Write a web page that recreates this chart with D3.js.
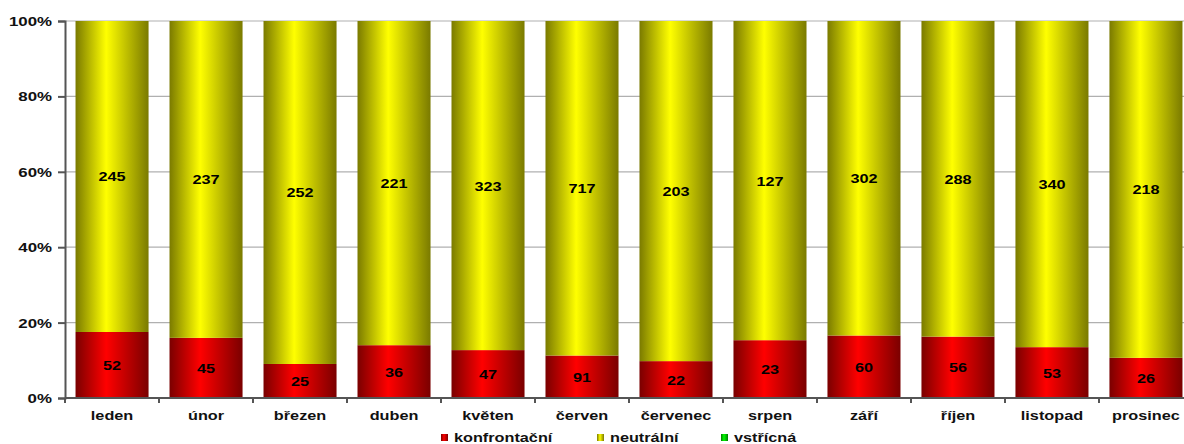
<!DOCTYPE html>
<html><head><meta charset="utf-8">
<script src="https://cdn.jsdelivr.net/npm/d3@7/dist/d3.min.js"></script>
<style>body{margin:0;background:#fff}svg{display:block;font-family:"Liberation Sans",Arial,sans-serif}</style>
</head><body><svg id="c" width="1184" height="444"></svg>
<script>
const months = ["leden","únor","březen","duben","květen","červen","červenec","srpen","září","říjen","listopad","prosinec"];
const konfrontacni = [52,45,25,36,47,91,22,23,60,56,53,26];
const neutralni = [245,237,252,221,323,717,203,127,302,288,340,218];
const vstricna = [0,0,0,0,0,0,0,0,0,0,0,0];
const seriesNames = ["konfrontační","neutrální","vstřícná"];
const yTicks = [0,0.2,0.4,0.6,0.8,1];

const svg = d3.select("#c");
const m = {l:65, t:21, b:398};
const step = 94;
const SX = 1.25;
const x = d3.scaleBand().domain(months).range([m.l, m.l + step*months.length]).paddingInner(0.223).paddingOuter(0.112);
const y = d3.scaleLinear().domain([0,1]).range([m.b, m.t]);

const defs = svg.append("defs");
function grad(id, dark, light){
  const g = defs.append("linearGradient").attr("id", id).attr("x1","0").attr("x2","1").attr("y1","0").attr("y2","0");
  g.append("stop").attr("offset","0%").attr("stop-color",dark);
  g.append("stop").attr("offset","42%").attr("stop-color",light);
  g.append("stop").attr("offset","100%").attr("stop-color",dark);
}
grad("gr","#7a0000","#ff0000");
grad("gy","#7a7a00","#ffff00");
grad("gg","#007a00","#00ff00");
const fills = ["url(#gr)","url(#gy)","url(#gg)"];

function txt(sel, tx, ty, size){
  return sel.attr("x",0).attr("y",0)
    .attr("transform", (d,i)=>`translate(${tx(d,i)},${ty(d,i)}) scale(${SX},1)`)
    .attr("font-size", size).attr("font-weight","bold").attr("fill","#111");
}

// gridlines
svg.append("g").selectAll("line").data(yTicks.filter(d=>d>0)).join("line")
  .attr("x1", m.l).attr("x2", 1184).attr("y1", d=>y(d)).attr("y2", d=>y(d))
  .attr("stroke","#b0b0b0").attr("stroke-width",1.2);

const data = months.map((mo,i)=>({mo, v:[konfrontacni[i], neutralni[i], vstricna[i]]}));
const stack = data.map(d=>{
  const tot = d3.sum(d.v); let acc = 0;
  return d.v.map((v,k)=>{ const s={mo:d.mo, k, v, y0:acc/tot, y1:(acc+v)/tot}; acc+=v; return s; });
}).flat().filter(s=>s.v>0);

svg.append("g").selectAll("rect").data(stack).join("rect")
  .attr("x", d=>x(d.mo)).attr("width", x.bandwidth())
  .attr("y", d=>y(d.y1)).attr("height", d=>y(d.y0)-y(d.y1))
  .attr("fill", d=>fills[d.k]);

txt(svg.append("g").selectAll("text").data(stack).join("text"),
  d=>x(d.mo)+x.bandwidth()/2, d=>(y(d.y0)+y(d.y1))/2+5, 13)
  .attr("text-anchor","middle").attr("fill","#000").text(d=>d.v);

// y axis
const ya = svg.append("g").attr("transform",`translate(${m.l},0)`)
  .call(d3.axisLeft(y).tickValues(yTicks).tickFormat("").tickSize(7));
ya.select(".domain").attr("stroke","#555").attr("stroke-width",2);
ya.selectAll(".tick line").attr("stroke","#555").attr("stroke-width",2);
txt(svg.append("g").selectAll("text").data(yTicks).join("text"),
  ()=>52, d=>y(d)+5, 13.5).attr("text-anchor","end").text(d3.format(".0%"));

// x axis
const xa = svg.append("g").attr("transform",`translate(0,${m.b})`);
xa.append("line").attr("x1",m.l).attr("x2",1184).attr("y1",0).attr("y2",0).attr("stroke","#555").attr("stroke-width",2);
xa.selectAll("line.t").data(d3.range(months.length+1)).join("line").attr("class","t")
  .attr("x1",i=>m.l+i*step).attr("x2",i=>m.l+i*step).attr("y1",0).attr("y2",5).attr("stroke","#555").attr("stroke-width",2);
txt(svg.append("g").selectAll("text").data(months).join("text"),
  d=>x(d)+x.bandwidth()/2, ()=>m.b+22, 13).attr("text-anchor","middle").text(d=>d);

// legend
const legX = [441, 597, 721];
const lg = svg.append("g");
seriesNames.forEach((n,k)=>{
  lg.append("rect").attr("x",legX[k]).attr("y",434).attr("width",7).attr("height",7).attr("fill",fills[k]);
  txt(lg.append("text"), ()=>legX[k]+13, ()=>442, 13).text(n);
});
</script></body></html>
